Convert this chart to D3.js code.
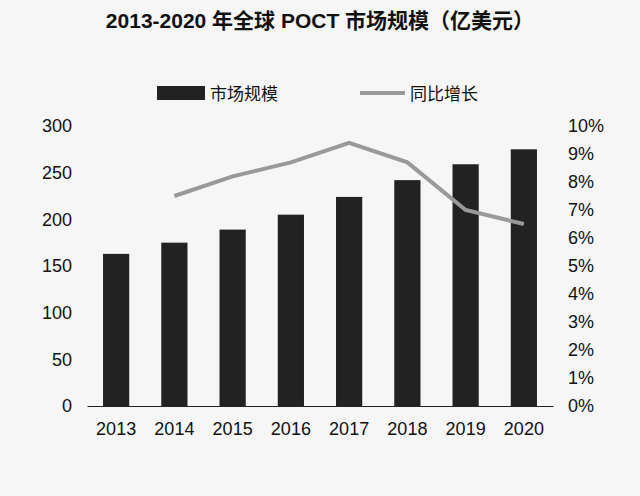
<!DOCTYPE html>
<html><head><meta charset="utf-8">
<script src="https://cdn.jsdelivr.net/npm/d3@7"></script>
<style>body{margin:0;background:#f6f6f6}</style>
</head><body><svg id="c" width="640" height="496"></svg>
<script>
const years=["2013","2014","2015","2016","2017","2018","2019","2020"];
const marketSize=[163,175,189,205,224,242,259,275];
const growth=[null,7.5,8.2,8.7,9.4,8.7,7.0,6.5];
const leftTicks=[0,50,100,150,200,250,300];
const rightTicks=[0,1,2,3,4,5,6,7,8,9,10];

const svg=d3.select("#c");
svg.append("rect").attr("width",640).attr("height",496).attr("fill","#f6f6f6");
const font="'Liberation Sans','Noto Sans CJK SC',sans-serif";
const x=d3.scaleBand().domain(years).range([87,553]).paddingInner(0.55).paddingOuter(0.275);
const y=d3.scaleLinear().domain([0,300]).range([406,126]);
const y2=d3.scaleLinear().domain([0,10]).range([406,126]);

svg.append("text").attr("x",320).attr("y",28).attr("text-anchor","middle")
 .attr("font-family",font).attr("font-weight","bold").attr("font-size",21).attr("fill","#111")
 .text("2013-2020 年全球 POCT 市场规模（亿美元）");

svg.selectAll(".bar").data(years).enter().append("rect")
 .attr("x",d=>x(d)).attr("width",x.bandwidth())
 .attr("y",(d,i)=>y(marketSize[i])).attr("height",(d,i)=>406-y(marketSize[i])).attr("fill","#222");

const line=d3.line().defined(d=>d[1]!=null).x(d=>x(d[0])+x.bandwidth()/2).y(d=>y2(d[1]));
svg.append("path").datum(years.map((d,i)=>[d,growth[i]])).attr("d",line)
 .attr("fill","none").attr("stroke","#999").attr("stroke-width",4);

const ax=svg.append("g").attr("transform","translate(0,406)").call(d3.axisBottom(x).tickSize(0).tickPadding(16));
ax.select(".domain").attr("stroke","#222");
const axl=svg.append("g").attr("transform","translate(87,0)").call(d3.axisLeft(y).tickValues(leftTicks).tickSize(0).tickPadding(15));
axl.select(".domain").remove();
const axr=svg.append("g").attr("transform","translate(553,0)").call(d3.axisRight(y2).tickValues(rightTicks).tickFormat(d=>d+"%").tickSize(0).tickPadding(15));
axr.select(".domain").remove();
svg.selectAll(".tick text").attr("font-family",font).attr("font-size",18).attr("fill","#111");

svg.append("rect").attr("x",157).attr("y",86).attr("width",48).attr("height",14).attr("fill","#222");
svg.append("text").attr("x",210).attr("y",100).attr("font-family",font).attr("font-size",17).attr("fill","#111").text("市场规模");
svg.append("line").attr("x1",360).attr("x2",405).attr("y1",93).attr("y2",93).attr("stroke","#999").attr("stroke-width",4);
svg.append("text").attr("x",410).attr("y",100).attr("font-family",font).attr("font-size",17).attr("fill","#111").text("同比增长");
</script></body></html>
